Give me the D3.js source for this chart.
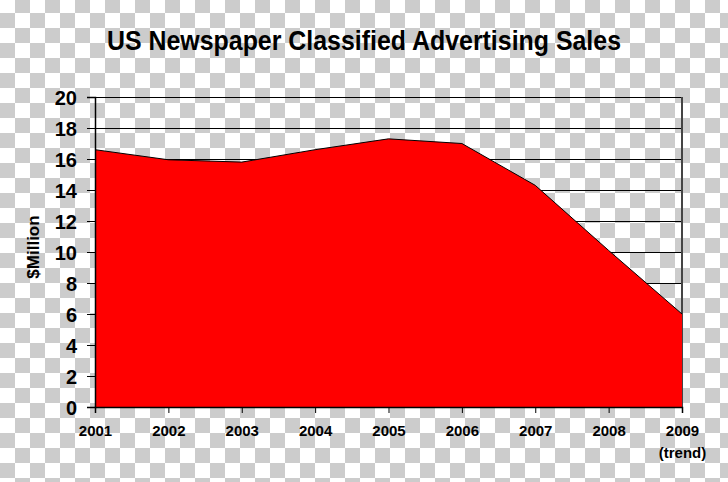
<!DOCTYPE html>
<html>
<head>
<meta charset="utf-8">
<script src="https://cdn.jsdelivr.net/npm/d3@7"></script>
<style>
  html, body { margin: 0; padding: 0; background: #fff; }
  svg { display: block; }
  text { font-family: "Liberation Sans", Arial, sans-serif; font-weight: bold; fill: #000; }
</style>
</head>
<body>
<svg id="chart" width="728" height="482"></svg>
<script>
const title = "US Newspaper Classified Advertising Sales";
const yAxisLabel = "$Million";
const years = ["2001", "2002", "2003", "2004", "2005", "2006", "2007", "2008", "2009"];
const yearSubLabels = ["", "", "", "", "", "", "", "", "(trend)"];
const sales = [16.6, 15.95, 15.8, 16.6, 17.3, 17.0, 14.3, 10.1, 6.0];
const yTicks = [0, 2, 4, 6, 8, 10, 12, 14, 16, 18, 20];

const svg = d3.select("#chart");
const W = 728, H = 482;
const plotL = 95, plotR = 682, plotT = 97, plotB = 407;

// checkerboard background (transparent-image look)
const defs = svg.append("defs");
const pat = defs.append("pattern").attr("id", "checker")
  .attr("patternUnits", "userSpaceOnUse")
  .attr("x", 0).attr("y", -2).attr("width", 30).attr("height", 30);
pat.append("rect").attr("width", 30).attr("height", 30).attr("fill", "#ffffff");
pat.append("rect").attr("x", 15).attr("y", 0).attr("width", 15).attr("height", 15).attr("fill", "#cccccc");
pat.append("rect").attr("x", 0).attr("y", 15).attr("width", 15).attr("height", 15).attr("fill", "#cccccc");
svg.append("rect").attr("width", W).attr("height", H).attr("fill", "url(#checker)");

const x = d3.scalePoint().domain(years).range([plotL, plotR]);
const y = d3.scaleLinear().domain([0, 20]).range([plotB, plotT]);

// gridlines
svg.append("g").attr("transform", `translate(${plotL},0)`)
  .call(d3.axisLeft(y).tickValues(yTicks.filter(v => v > 0)).tickSize(-(plotR - plotL)).tickFormat(""))
  .call(g => g.select(".domain").remove())
  .call(g => g.selectAll("line").attr("stroke", "#000").attr("stroke-width", 1));

// right border
svg.append("line").attr("x1", plotR).attr("x2", plotR).attr("y1", y(20)).attr("y2", y(0))
  .attr("stroke", "#444").attr("stroke-width", 2);

// area
const data = years.map((yr, i) => ({ yr, v: sales[i] }));
svg.append("path").datum(data)
  .attr("fill", "#ff0000")
  .attr("d", d3.area().x(d => x(d.yr)).y0(y(0)).y1(d => y(d.v)));
svg.append("path").datum(data)
  .attr("fill", "none").attr("stroke", "#000").attr("stroke-width", 1)
  .attr("d", d3.line().x(d => x(d.yr)).y(d => y(d.v)));

// y axis
const ya = svg.append("g").attr("transform", `translate(${plotL},0)`)
  .call(d3.axisLeft(y).tickValues(yTicks).tickSize(8).tickPadding(10).tickFormat(d3.format("d")));
ya.select(".domain").attr("stroke", "#000").attr("stroke-width", 1.5);
ya.selectAll("line").attr("stroke", "#000");
ya.selectAll("text").style("font-size", "20px").style("font-family", "'Liberation Sans', Arial, sans-serif")
  .style("font-weight", "bold").attr("fill", "#000").attr("dy", "0.36em");

// x axis
const xa = svg.append("g").attr("transform", `translate(0,${plotB})`)
  .call(d3.axisBottom(x).tickSize(6).tickPadding(12));
xa.select(".domain").attr("stroke", "#000").attr("stroke-width", 1.5);
xa.selectAll("line").attr("stroke", "#000");
xa.selectAll("text").style("font-size", "15px").style("font-family", "'Liberation Sans', Arial, sans-serif")
  .style("font-weight", "bold").attr("fill", "#000");
xa.selectAll(".tick").each(function(d, i) {
  if (yearSubLabels[i]) {
    d3.select(this).append("text").attr("y", 51).attr("text-anchor", "middle")
      .style("font-size", "15px").style("font-family", "'Liberation Sans', Arial, sans-serif")
      .style("font-weight", "bold").attr("fill", "#000").text(yearSubLabels[i]);
  }
});

// title
svg.append("text").attr("x", 364).attr("y", 50).attr("text-anchor", "middle")
  .attr("textLength", 514).attr("lengthAdjust", "spacingAndGlyphs")
  .style("font-size", "28px").text(title);

// y label
svg.append("text").attr("transform", "translate(39,247) rotate(-90)").attr("text-anchor", "middle")
  .style("font-size", "17px").text(yAxisLabel);
</script>
</body>
</html>
